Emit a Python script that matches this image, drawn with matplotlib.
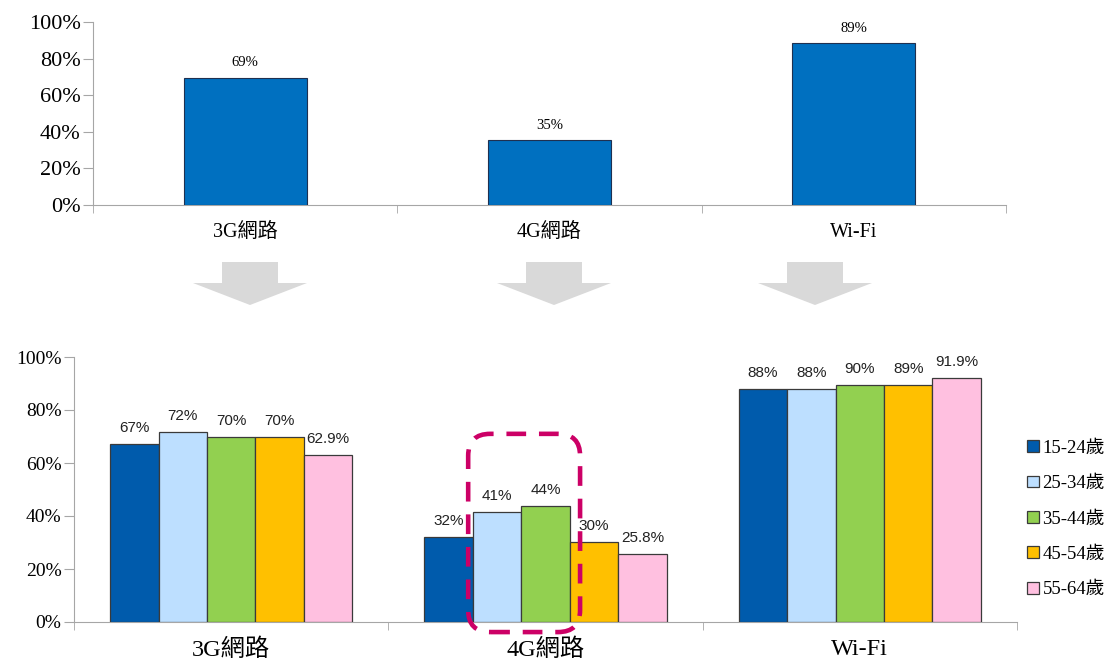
import matplotlib
matplotlib.use("Agg")
import matplotlib.pyplot as plt
from matplotlib.patches import Patch, Polygon, FancyBboxPatch
import numpy as np

# ---- data ----
categories = ["3G網路", "4G網路", "Wi-Fi"]
overall_values = [69.4, 35.5, 88.5]
overall_labels = ["69%", "35%", "89%"]

age_groups = ["15-24歲", "25-34歲", "35-44歲", "45-54歲", "55-64歲"]
age_values = [
    [67.2, 32.2, 87.8],   # 15-24
    [71.8, 41.4, 88.0],   # 25-34
    [69.7, 43.9, 89.4],   # 35-44
    [69.9, 30.3, 89.4],   # 45-54
    [62.9, 25.8, 91.9],   # 55-64
]
age_labels = [
    ["67%", "32%", "88%"],
    ["72%", "41%", "88%"],
    ["70%", "44%", "90%"],
    ["70%", "30%", "89%"],
    ["62.9%", "25.8%", "91.9%"],
]
yticks = [0, 20, 40, 60, 80, 100]
ytick_labels = ["0%", "20%", "40%", "60%", "80%", "100%"]

# ---- style ----
SERIF = ["Liberation Serif", "Noto Sans CJK TC", "DejaVu Serif"]
SANS = ["Liberation Sans", "DejaVu Sans"]
age_colors = ["#005BAC", "#BDDFFF", "#92D050", "#FFC000", "#FFC0E0"]
top_color = "#0070C0"
axis_gray = "#A6A6A6"

W, H = 1105, 666
fig = plt.figure(figsize=(W / 100, H / 100), dpi=100)


def px_rect(l, t, r, b):
    return [l / W, 1 - b / H, (r - l) / W, (b - t) / H]


def style_axes(ax, ytick_size, xtick_size, xpad):
    for s in ["top", "right"]:
        ax.spines[s].set_visible(False)
    ax.spines["left"].set_color(axis_gray)
    ax.spines["bottom"].set_color(axis_gray)
    ax.set_ylim(0, 100)
    ax.set_xlim(-0.5, len(categories) - 0.5)
    ax.set_yticks(yticks)
    ax.set_yticklabels(ytick_labels, fontfamily=SERIF, fontsize=ytick_size)
    ax.tick_params(axis="y", length=7, color=axis_gray, direction="out", pad=2)
    ax.set_xticks(np.arange(len(categories)))
    ax.set_xticklabels(categories, fontfamily=SERIF, fontsize=xtick_size)
    ax.tick_params(axis="x", which="major", length=0, pad=xpad)
    ax.set_xticks(np.arange(len(categories) + 1) - 0.5, minor=True)
    ax.tick_params(axis="x", which="minor", length=6, color=axis_gray, direction="out")


# ---- top chart ----
ax1 = fig.add_axes(px_rect(93, 22, 1006, 205))
x = np.arange(len(categories))
bars = ax1.bar(x, overall_values, width=0.405, color=top_color,
               edgecolor="#1F3050", linewidth=0.8, zorder=3)
for b, lab in zip(bars, overall_labels):
    ax1.annotate(lab, (b.get_x() + b.get_width() / 2, b.get_height()),
                 xytext=(0, 15), textcoords="offset pixels", ha="center", va="center",
                 fontsize=10.5, fontfamily=SERIF)
style_axes(ax1, 16, 14.5, 13)

# ---- bottom chart ----
ax2 = fig.add_axes(px_rect(74, 357, 1017, 622))
bw = 0.154
n = len(age_groups)
for i, (vals, labs, col, name) in enumerate(zip(age_values, age_labels, age_colors, age_groups)):
    pos = x + (i - (n - 1) / 2) * bw
    bs = ax2.bar(pos, vals, width=bw, color=col, edgecolor="#3A3A3A",
                 linewidth=0.9, label=name, zorder=3)
    for b, lab in zip(bs, labs):
        ax2.annotate(lab, (b.get_x() + b.get_width() / 2, b.get_height()),
                     xytext=(0, 16), textcoords="offset pixels", ha="center", va="center",
                     fontsize=11, fontfamily=SANS, color="#222222")
style_axes(ax2, 14, 17.5, 12)

# dashed rounded highlight around 25-44 bars of 4G
hl = FancyBboxPatch((0.754, -3.8), 1.110 - 0.754, 71.0 + 3.8,
                    boxstyle="round,pad=0,rounding_size=0.07", mutation_aspect=118,
                    transform=ax2.transData, fill=False, edgecolor="#CC0066",
                    linewidth=3.3, linestyle=(0, (4.3, 2.8)), clip_on=False, zorder=5)
ax2.add_patch(hl)

# legend
handles = [Patch(facecolor=c, edgecolor="#3A3A3A", linewidth=0.9) for c in age_colors]
fig.legend(handles, age_groups, loc="center left",
           bbox_to_anchor=(1018 / W, 1 - 519 / H), frameon=False,
           prop={"family": SERIF, "size": 13.5}, handlelength=0.6, handleheight=0.6,
           handletextpad=0.2, labelspacing=0.98, borderpad=0)

# ---- grey block arrows between charts ----
arrow_centers = [250, 554, 815]
for cx in arrow_centers:
    pts = [(cx - 28, 262), (cx + 28, 262), (cx + 28, 283), (cx + 57, 283),
           (cx, 305), (cx - 57, 283), (cx - 28, 283)]
    poly = Polygon([(px / W, 1 - py / H) for px, py in pts], closed=True,
                   transform=fig.transFigure, facecolor="#D9D9D9", edgecolor="none")
    fig.patches.append(poly)

fig.savefig("out.png", dpi=100, facecolor="white")
